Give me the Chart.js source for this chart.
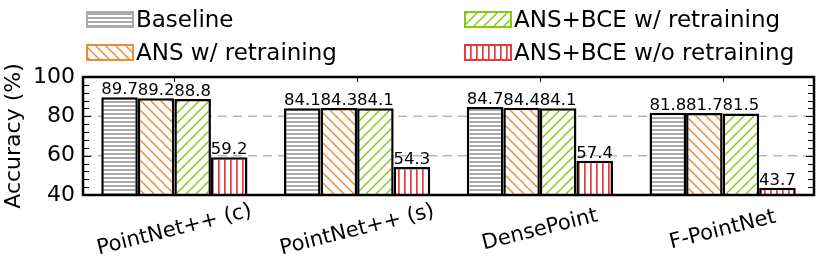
<!DOCTYPE html>
<html>
<head>
<meta charset="utf-8">
<script src="https://cdn.jsdelivr.net/npm/chart.js@4/dist/chart.umd.min.js"></script>
<style>
  html, body { margin: 0; padding: 0; background: #fff; }
  #wrap { position: relative; width: 830px; height: 260px; }
</style>
</head>
<body>
<div id="wrap"><canvas id="c" width="830" height="260"></canvas></div>
<script>
// ---- data ----
const categories = ["PointNet++ (c)", "PointNet++ (s)", "DensePoint", "F-PointNet"];
const seriesNames = ["Baseline", "ANS w/ retraining", "ANS+BCE w/ retraining", "ANS+BCE w/o retraining"];
const baseline = [89.7, 84.1, 84.7, 81.8];
const ansRetrain = [89.2, 84.3, 84.4, 81.7];
const ansBceRetrain = [88.8, 84.1, 84.1, 81.5];
const ansBceNoRetrain = [59.2, 54.3, 57.4, 43.7];
const yTicks = [40, 60, 80, 100];

// ---- styles ----
const FONT = "'DejaVu Sans', sans-serif";
const hatchColors = ["#aaaaaa", "#f0883a", "#88c812", "#e8393f"];
const hatchKinds = ["h", "b", "f", "v"];

function makePattern(kind, color) {
  const c = document.createElement("canvas");
  let w = 10, h = 10;
  if (kind === "h") { w = 6; h = 4; }
  if (kind === "v") { w = 6; h = 6; }
  c.width = w; c.height = h;
  const x = c.getContext("2d");
  x.fillStyle = "#fff";
  x.fillRect(0, 0, w, h);
  x.strokeStyle = color;
  x.fillStyle = color;
  x.lineWidth = 1.5;
  if (kind === "h") {
    x.fillRect(0, 1, w, 2);
  } else if (kind === "v") {
    x.fillRect(2, 0, 1.7, h);
  } else if (kind === "b") {
    for (let k = -1; k <= 1; k++) {
      x.beginPath(); x.moveTo(k * 10 - 2, -2); x.lineTo(k * 10 + 12, 12); x.stroke();
    }
  } else if (kind === "f") {
    for (let k = -1; k <= 1; k++) {
      x.beginPath(); x.moveTo(k * 10 - 2, 12); x.lineTo(k * 10 + 12, -2); x.stroke();
    }
  }
  return x.createPattern(c, "repeat");
}

const patterns = hatchKinds.map((k, i) => makePattern(k, hatchColors[i]));
const seriesData = [baseline, ansRetrain, ansBceRetrain, ansBceNoRetrain];

const datasets = seriesData.map((d, i) => ({
  label: seriesNames[i],
  data: d,
  backgroundColor: patterns[i],
  borderColor: "#000",
  borderWidth: 2.5,
  borderSkipped: false,
  categoryPercentage: 0.8,
  barPercentage: 1.0
}));

const decorPlugin = {
  id: "decor",
  beforeDatasetsDraw(chart) {
    const { ctx, chartArea: a, scales: { y } } = chart;
    ctx.save();
    ctx.strokeStyle = "#b8b8b8";
    ctx.lineWidth = 1.5;
    ctx.setLineDash([9, 6]);
    [60, 80].forEach(v => {
      const py = y.getPixelForValue(v);
      ctx.beginPath(); ctx.moveTo(a.left, py); ctx.lineTo(a.right, py); ctx.stroke();
    });
    ctx.restore();
  },
  afterDatasetsDraw(chart) {
    const { ctx, chartArea: a, scales: { x, y } } = chart;
    ctx.save();
    // minor / major ticks inward
    ctx.strokeStyle = "#000";
    ctx.lineWidth = 1;
    for (let v = 40; v <= 100; v += 4) {
      const py = Math.round(y.getPixelForValue(v)) + 0.5;
      const len = (v % 20 === 0) ? 8 : 6;
      ctx.beginPath();
      ctx.moveTo(a.left, py); ctx.lineTo(a.left + len, py);
      ctx.moveTo(a.right, py); ctx.lineTo(a.right - len, py);
      ctx.stroke();
    }
    categories.forEach((c, i) => {
      const px = Math.round(x.getPixelForValue(i)) + 0.5;
      ctx.beginPath(); ctx.moveTo(px, a.top); ctx.lineTo(px, a.top + 5); ctx.stroke();
    });
    // frame
    ctx.lineWidth = 2.5;
    ctx.strokeRect(a.left, a.top, a.right - a.left, a.bottom - a.top);

    // value labels
    ctx.fillStyle = "#000";
    ctx.font = "16.5px " + FONT;
    ctx.textAlign = "center";
    ctx.textBaseline = "alphabetic";
    chart.data.datasets.forEach((ds, di) => {
      const meta = chart.getDatasetMeta(di);
      meta.data.forEach((bar, j) => {
        ctx.fillText(ds.data[j].toFixed(1), bar.x, bar.y - 3);
      });
    });

    // x category labels, rotated
    ctx.font = "21px " + FONT;
    ctx.textBaseline = "middle";
    categories.forEach((c, i) => {
      const px = x.getPixelForValue(i);
      ctx.save();
      ctx.translate(px, 230);
      ctx.rotate(-14 * Math.PI / 180);
      ctx.fillText(c, 0, 0);
      ctx.restore();
    });

    // legend
    const sw = [[86, 464], [11, 44]];
    const baselines = [27, 60];
    ctx.font = "23px " + FONT;
    ctx.textAlign = "left";
    ctx.textBaseline = "alphabetic";
    chart.data.datasets.forEach((ds, i) => {
      const col = Math.floor(i / 2), row = i % 2;
      const sx = sw[0][col], sy = sw[1][row];
      ctx.fillStyle = ds.backgroundColor;
      ctx.fillRect(sx, sy, 48, 17);
      ctx.strokeStyle = hatchColors[i];
      ctx.lineWidth = 2;
      ctx.strokeRect(sx + 1, sy + 1, 46, 15);
      ctx.fillStyle = "#000";
      ctx.fillText(ds.label, sx + 50, baselines[row]);
    });
    ctx.restore();
  }
};

new Chart(document.getElementById("c"), {
  type: "bar",
  data: { labels: categories, datasets },
  options: {
    responsive: false,
    animation: false,
    events: [],
    layout: { padding: { top: 77, right: 16, bottom: 0, left: 0 } },
    plugins: { legend: { display: false }, tooltip: { enabled: false } },
    scales: {
      x: {
        ticks: { display: false },
        grid: { display: false },
        border: { display: false },
        afterFit(s) { s.height = 65; }
      },
      y: {
        min: 40, max: 100,
        afterBuildTicks(s) { s.ticks = yTicks.map(v => ({ value: v })); },
        ticks: { color: "#000", font: { family: FONT, size: 22 }, padding: 8 },
        grid: { display: false, drawTicks: false },
        border: { display: false },
        title: {
          display: true, text: "Accuracy (%)", color: "#000",
          font: { family: FONT, size: 22 }, padding: { top: 1, bottom: 0 }
        },
        afterFit(s) { s.width = 83; }
      }
    }
  },
  plugins: [decorPlugin]
});
</script>
</body>
</html>
